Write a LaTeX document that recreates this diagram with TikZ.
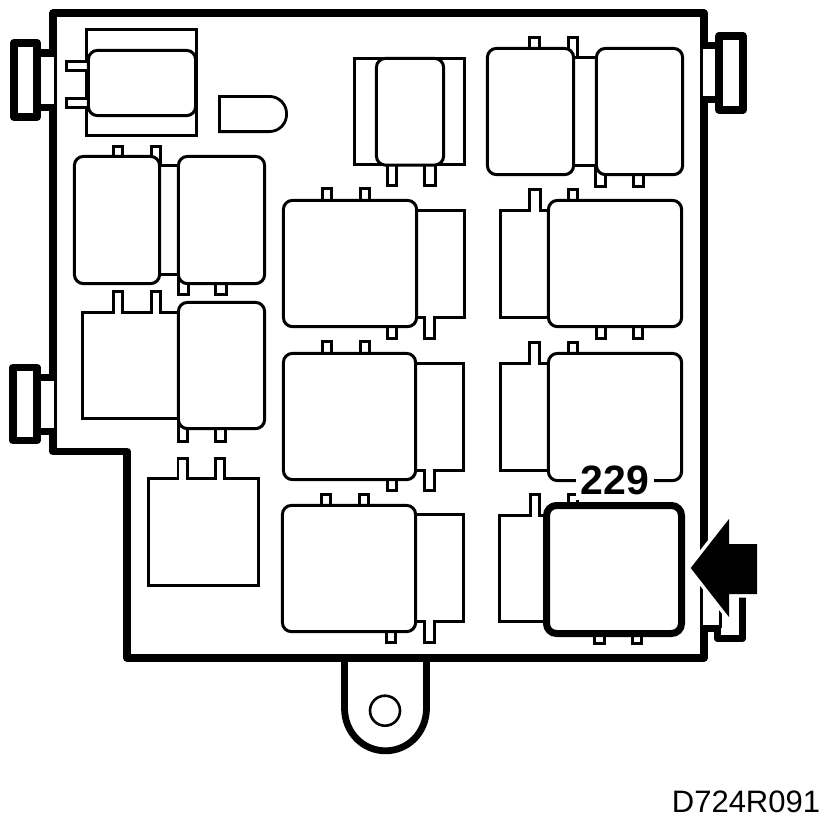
\documentclass[tikz,border=0pt]{standalone}
\usepackage{fontspec}
\setmainfont{Liberation Sans}
\tikzset{
  thin line/.style={draw=black,fill=white,line width=2.8pt,line join=miter},
  relay/.style={draw=black,fill=white,line width=3pt,rounded corners=9pt},
  open line/.style={draw=black,line width=2.8pt,line join=miter},
  body line/.style={draw=black,line width=7.4pt,line join=round},
  clip line/.style={draw=black,fill=white,line width=7.6pt,line join=round}
}
% box given by its outer edges
\newcommand{\obox}[5]{%
  \pgfmathsetmacro\xa{#2+1.4}\pgfmathsetmacro\ya{#3+1.4}%
  \pgfmathsetmacro\xb{#4-1.4}\pgfmathsetmacro\yb{#5-1.4}%
  \path[#1] (\xa,\ya) rectangle (\xb,\yb);}
% side block to the right of a relay, with a tab below: x0 right y1 y2 tab1 tab2 tabbottom
\newcommand{\sideright}[7]{%
  \path[thin line] (#1,#3) -- (#2,#3) -- (#2,#4) -- (#6,#4) -- (#6,#7) -- (#5,#7) -- (#5,#4) -- (#1,#4);}
% side block to the left of a relay, with a tab above: x0 left y1 y2 tab1 tab2 tabtop
\newcommand{\sideleft}[7]{%
  \path[thin line] (#1,#4) -- (#2,#4) -- (#2,#3) -- (#5,#3) -- (#5,#7) -- (#6,#7) -- (#6,#3) -- (#1,#3);}
\begin{document}
\begin{tikzpicture}[x=1pt,y=-1pt]
\useasboundingbox (0,0) rectangle (832,828);
\fill[white] (0,0) rectangle (832,828);

% lug
\path[body line,fill=white,line width=6.8pt] (344.5,655) -- (344.5,708) .. controls (344.5,732.6) and (363,750.8) .. (385.5,750.8) .. controls (408,750.8) and (426.5,732.6) .. (426.5,708) -- (426.5,655);
\draw[line width=2.6pt] (385,710.7) circle[radius=15];

% body
\path[body line] (53,13) -- (704,13) -- (704,658) -- (127,658) -- (127,451.5) -- (53,451.5) -- cycle;

% left clip, top
\fill[white] (37,57) rectangle (54,104);
\path[open line] (55.5,55) -- (55.5,106);
\path[body line] (41,53) -- (53,53) (41,107.5) -- (53,107.5);
\path[clip line] (13.8,42.8) rectangle (37.2,117.2);
% left clip, lower
\fill[white] (37,381) rectangle (54,428);
\path[open line] (55.5,379) -- (55.5,430);
\path[body line] (41,377.5) -- (53,377.5) (41,431.5) -- (53,431.5);
\path[clip line] (13,367.5) rectangle (37,440.5);
% right clip, top
\fill[white] (703,49) rectangle (719,96);
\path[open line] (701.5,47) -- (701.5,98);
\path[body line] (704,45.5) -- (719,45.5) (704,99.5) -- (719,99.5);
\path[clip line] (719,35.7) rectangle (743,109.7);
% right clip, lower
\fill[white] (703,570) rectangle (719,625);
\path[open line] (701.5,570) -- (701.5,626);
\path[open line,line width=2.4pt] (720.5,580) -- (720.5,628);
\path[body line] (704,628.5) -- (719,628.5);
\path[body line] (717.5,628) -- (717.5,638.5) -- (742.5,638.5) -- (742.5,585);

% top-left relay
\obox{thin line}{85}{28}{198}{137}
\obox{thin line}{65}{60}{95}{72}
\obox{thin line}{65}{97}{95}{109}
\obox{relay}{87}{49}{197}{117}

% half-round
\path[thin line] (219.4,96.4) -- (269,96.4) .. controls (279,96.4) and (286.6,104) .. (286.6,114) .. controls (286.6,124) and (279,131.6) .. (269,131.6) -- (219.4,131.6) -- cycle;

% relays A, B
\obox{thin line}{112}{145}{124}{165}
\obox{thin line}{150}{145}{162}{172}
\obox{thin line}{155}{164}{185}{276}
\obox{thin line}{177}{270}{190}{296}
\obox{thin line}{214}{270}{228}{296}
\obox{relay}{73}{155}{161}{285}
\obox{relay}{177}{155}{266}{285}

% block C, relay D
\obox{thin line}{177}{420}{189}{443}
\obox{thin line}{214}{420}{227}{443}
\path[thin line] (185,312.4) -- (160.6,312.4) -- (160.6,291.4) -- (151.4,291.4) -- (151.4,312.4) -- (122.6,312.4) -- (122.6,291.4) -- (113.4,291.4) -- (113.4,312.4) -- (82.4,312.4) -- (82.4,418.6) -- (185,418.6);
\obox{relay}{177}{301}{266}{430}

% block E
\path[thin line] (148.4,478.4) -- (177.9,478.4) -- (177.9,458.4) -- (187.6,458.4) -- (187.6,478.4) -- (215.4,478.4) -- (215.4,458.4) -- (224.6,458.4) -- (224.6,478.4) -- (258.6,478.4) -- (258.6,585.6) -- (148.4,585.6) -- cycle;

% top middle relay
\obox{thin line}{353}{57}{466}{166}
\obox{thin line}{386}{155}{398}{187}
\obox{thin line}{423}{155}{437}{187}
\obox{relay}{375}{57}{445}{166.5}

% relays I, J
\obox{thin line}{528}{36}{541}{55}
\obox{thin line}{567}{36}{579}{65}
\obox{thin line}{570}{56}{600}{167}
\obox{thin line}{594}{165}{607}{188}
\obox{thin line}{632}{165}{645}{188}
\obox{relay}{486}{47}{575}{176}
\obox{relay}{595}{47}{684}{176}

% relay F
\obox{thin line}{321}{187}{333}{210}
\obox{thin line}{359}{187}{371}{210}
\obox{thin line}{386}{320}{398}{340}
\sideright{412}{464.6}{210.4}{317.6}{424.4}{434.6}{338.6}
\obox{relay}{282}{199}{418}{328}

% relay G
\obox{thin line}{321}{340}{333}{362}
\obox{thin line}{359}{340}{371}{362}
\obox{thin line}{386}{472}{398}{492}
\sideright{412}{463.6}{363.4}{470.6}{424.4}{434.6}{490.6}
\obox{relay}{282}{352}{417}{481}

% relay H
\obox{thin line}{320}{493}{332}{514}
\obox{thin line}{358}{493}{370}{514}
\obox{thin line}{385}{625}{397}{644}
\sideright{412}{463.6}{514.4}{621.6}{424.4}{434.6}{642.6}
\obox{relay}{281}{504}{417}{633}

% relay K
\obox{thin line}{567}{188}{579}{210}
\obox{thin line}{595}{320}{607}{340}
\obox{thin line}{632}{320}{644}{340}
\sideleft{553}{500.4}{210.4}{317.6}{529.4}{540.6}{189.4}
\obox{relay}{547}{199}{683}{328}

% relay L
\obox{thin line}{567}{341}{579}{362}
\sideleft{553}{500.4}{363.4}{470.6}{529.4}{539.6}{342.4}
\obox{relay}{547}{352}{683}{482}

% relay M, highlighted
\obox{thin line}{567}{493}{579}{515}
\sideleft{553}{499.4}{515.4}{621.6}{530.4}{539.6}{494.4}
\obox{thin line}{593}{625}{606}{645}
\obox{thin line}{631}{625}{643}{645}
\node[name=label229,fill=white,inner sep=0pt,minimum width=78pt,minimum height=39pt,font=\fontsize{41}{41}\selectfont\bfseries] at (615,480.5) {229};
\path[relay,line width=7pt,rounded corners=10pt] (546.5,505.5) rectangle (681.5,633.5);

% arrow
\path[draw=white,line width=7pt,line join=miter] (690.7,568) -- (729,519) -- (729,544) -- (757,544) -- (757,594) -- (729,594) -- (729,617) -- cycle;
\fill[black] (690.7,568) -- (729,519) -- (729,544) -- (757,544) -- (757,594) -- (729,594) -- (729,617) -- cycle;

\node[name=drawingcode,inner sep=0pt,font=\fontsize{31}{31}\selectfont] at (746,802) {D724R091};
\end{tikzpicture}
\end{document}
